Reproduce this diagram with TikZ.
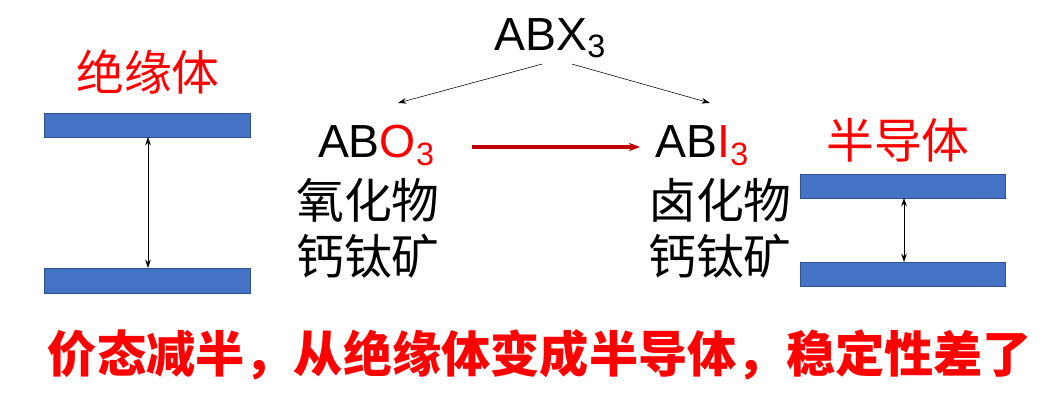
\documentclass[tikz,border=0pt]{standalone}
\usepackage{fontspec}
\setmainfont{Liberation Sans}
\newfontfamily\cjk{Noto Sans CJK SC}
\usetikzlibrary{arrows.meta}
\definecolor{barblue}{HTML}{4472C4}
\definecolor{barline}{HTML}{2F528F}
\newcommand{\sbs}[1]{\raisebox{-0.3ex}{\fontsize{23}{23}\selectfont #1}}
\tikzset{
  bar/.style={fill=barblue,draw=barline,line width=0.6pt},
  chem/.style={font=\fontsize{33}{33}\selectfont,inner sep=0pt},
  zh/.style={font=\cjk\fontsize{34}{34}\selectfont,inner sep=0pt},
  zhred/.style={zh,text=red},
}
\begin{document}
\begin{tikzpicture}[x=0.025cm,y=-0.025cm,>={Stealth[length=6pt,width=4pt]}]
  \useasboundingbox (0,0) rectangle (1061,411);
  % top formula
  \node[chem] (abx) at (550,38) {ABX\sbs{3}};
  \node[chem,anchor=base] (abo) at (376,158) {AB\textcolor{red}{O\sbs{3}}};
  \node[chem,anchor=base] (abi) at (702,158) {AB\textcolor{red}{I\sbs{3}}};
  \draw[->,thin] (abx.south) ++(-8,6) coordinate (s1) -- (398,103) coordinate (t1);
  \draw[->,thin] (abx.south) ++(22,6) coordinate (s2) -- (710,103) coordinate (t2);
  \draw[-{Stealth[length=8pt,width=6pt]},line width=2.2pt,color=red!75!black] (472,147) coordinate (r1) -- (640,147) coordinate (r2);
  % names
  \node[zh] (oxa) at (368,200) {氧化物};
  \node[zh] (oxb) at (368,256) {钙钛矿};
  \node[zh] (hla) at (720,200) {卤化物};
  \node[zh] (hlb) at (720,256) {钙钛矿};
  % left bands
  \node[zhred] (ins) at (148,72) {绝缘体};
  \draw[bar] (44,113) rectangle (250,137);
  \draw[bar] (44,268) rectangle (250,293);
  \coordinate (ia) at (148,137);
  \coordinate (ib) at (148,268);
  \draw[<->,thin] (ia) -- (ib);
  % right bands
  \node[zhred] (semi) at (898,140) {半导体};
  \draw[bar] (800,174) rectangle (1005,198);
  \draw[bar] (800,262) rectangle (1005,286);
  \coordinate (sa) at (904,198);
  \coordinate (sb) at (904,262);
  \draw[<->,thin] (sa) -- (sb);
  % conclusion
  \node[zhred,font=\cjk\bfseries\fontsize{35}{35}\selectfont] (msg) at (540,355) {价态减半，从绝缘体变成半导体，稳定性差了};
\end{tikzpicture}
\end{document}
